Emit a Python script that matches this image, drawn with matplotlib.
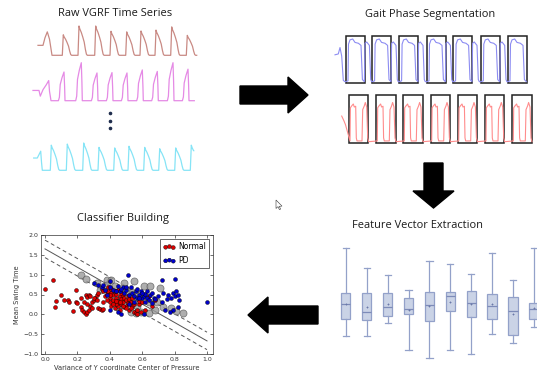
import matplotlib
matplotlib.use("Agg")
import matplotlib.pyplot as plt
from matplotlib.patches import Polygon, Rectangle
import numpy as np

W, H = 537, 370

# ---- raw VGRF series: time in samples, force as fraction of the strip max
red_peak_t = [33.3, 49, 65.7, 81, 96.7, 111, 126, 141.7, 157.3]
red_peak_f = [0.70, 1.0, 1.0, 0.82, 0.80, 0.83, 0.86, 0.97, 0.68]
red_lead_t = [8, 13, 15, 17.3, 19.5, 22]
red_lead_f = [0.34, 0.34, 0.6, 0.80, 0.55, 0.0]

mag_peak_t = [34, 51.3, 67, 82, 97, 112.3, 127.3, 143, 158]
mag_peak_f = [0.755, 1.0, 0.73, 0.74, 0.73, 0.81, 0.77, 1.0, 0.83]
mag_lead_t = [3, 9, 10.3, 13, 16.3, 18.7, 19.5, 21]
mag_lead_f = [0.27, 0.27, 0.12, 0.29, 0.42, 0.53, 0.25, 0.0]

cyan_peak_t = [21.3, 37.3, 53.7, 69, 84.7, 99, 114.7, 129.7, 145.7, 161.3]
cyan_peak_f = [0.92, 0.96, 1.0, 0.84, 0.82, 0.88, 0.84, 0.79, 0.82, 0.92]
cyan_lead_t = [3.7, 7.3, 10.7, 11.5, 12.3]
cyan_lead_f = [0.45, 0.45, 0.70, 0.3, 0.0]

# stride shapes (offset from the peak, fraction of the peak)
heel_dt = [-1.0, 0, 0.8, 2.3, 3.8, 5.2, 6.4, 7.4, 8.3]
heel_fr = [0, 1.0, 0.9, 0.78, 0.62, 0.45, 0.2, 0.04, 0]
ramp_dt = [-5.6, -4.6, -3.8, -2, 0, 0.6, 1.0]
ramp_fr = [0, 0.12, 0.56, 0.8, 1.0, 0.5, 0]

# ---- gait phase segmentation (box starts in samples, shape from box start)
blue_box_t = [15.7, 42.3, 69.3, 96.7, 123.3, 151, 177.7]
blue_lead_t = [5, 8.3, 10, 11.7, 13.3, 15]
blue_lead_f = [0.63, 0.65, 0.8, 0.6, 0.03, 0]
blue_dt = [0, 2.3, 2.8, 4.3, 7, 9.3, 12.7, 15.3, 16.7, 18.7, 19.3, 21, 23.7, 25, 26]
blue_fr = [0, 0.02, 0.88, 0.98, 1.0, 0.92, 0.9, 0.85, 0.05, 0, 0.9, 0.93, 0.85, 0.05, 0]

pink_box_t = [14, 41.3, 68.3, 95.7, 122.7, 150, 177.3]
pink_lead_t = [6.7, 9, 10.5]
pink_lead_f = [0.68, 0.55, 0.45]
pink_dt = [1.0, 1.4, 2.7, 4.3, 5.3, 6.7, 7.3, 8, 13, 13.7, 15.3, 16.3, 17.7, 18.7, 19.7]
pink_fr = [0.02, 0.9, 0.95, 1.0, 0.92, 0.94, 0.1, 0.02, 0.02, 0.85, 0.95, 1.04, 0.92, 0.1, 0]

# ---- feature boxplots (whislo, q1, med, q3, whishi, mean)
feat_lo = [0.24, 0.24, 0.37, 0.10, 0.02, 0.10, 0.06, 0.26, 0.17, 0.33]
feat_q1 = [0.41, 0.40, 0.44, 0.46, 0.39, 0.49, 0.43, 0.41, 0.25, 0.41]
feat_med = [0.56, 0.48, 0.53, 0.51, 0.55, 0.64, 0.57, 0.54, 0.49, 0.51]
feat_q3 = [0.67, 0.67, 0.67, 0.62, 0.68, 0.68, 0.69, 0.66, 0.63, 0.57]
feat_hi = [1.12, 0.92, 0.85, 0.70, 0.99, 0.96, 0.86, 1.07, 0.80, 1.12]
feat_mean = [0.56, 0.53, 0.56, 0.50, 0.54, 0.58, 0.56, 0.56, 0.46, 0.52]

# ---- classifier scatter
normal_pts = [(0.00, 0.65), (0.05, 0.87), (0.07, 0.33), (0.06, 0.18), (0.10, 0.50),
              (0.12, 0.35), (0.14, 0.37), (0.15, 0.30), (0.17, 0.08), (0.19, 0.62),
              (0.19, 0.32), (0.20, 0.28), (0.22, 0.19), (0.23, 0.10), (0.24, 0.05),
              (0.25, 0.00), (0.26, 0.05), (0.27, 0.12), (0.25, 0.48), (0.26, 0.43),
              (0.27, 0.50), (0.28, 0.45), (0.29, 0.30), (0.30, 0.35), (0.28, 0.22),
              (0.29, 0.17), (0.31, 0.40), (0.32, 0.48), (0.33, 0.15), (0.34, 0.13),
              (0.35, 0.12), (0.36, 0.14), (0.33, 0.55), (0.35, 0.65), (0.36, 0.58),
              (0.37, 0.45), (0.38, 0.52), (0.39, 0.60), (0.40, 0.42), (0.40, 0.30),
              (0.41, 0.55), (0.41, 0.22), (0.42, 0.35), (0.42, 0.48), (0.43, 0.28),
              (0.43, 0.15), (0.44, 0.40), (0.44, 0.52), (0.45, 0.20), (0.45, 0.33),
              (0.46, 0.45), (0.46, 0.10), (0.47, 0.25), (0.47, 0.38), (0.48, 0.30),
              (0.48, 0.50), (0.49, 0.18), (0.49, 0.42), (0.50, 0.35), (0.50, 0.22),
              (0.51, 0.28), (0.51, 0.45), (0.52, 0.12), (0.52, 0.38), (0.53, 0.30),
              (0.54, 0.20), (0.54, 0.42), (0.55, 0.05), (0.56, 0.03), (0.57, 0.02),
              (0.58, 0.25), (0.58, 0.33), (0.60, 0.30), (0.62, 0.10), (0.64, 0.45),
              (0.66, 0.20), (0.68, 0.35), (0.39, 0.70), (0.41, 0.65), (0.43, 0.58),
              (0.45, 0.62), (0.47, 0.55), (0.38, 0.35), (0.36, 0.30), (0.44, 0.25),
              (0.50, 0.15), (0.40, 0.48), (0.42, 0.25), (0.44, 0.33), (0.46, 0.30),
              (0.48, 0.20), (0.53, 0.15), (0.55, 0.25), (0.57, 0.12), (0.59, 0.05),
              (0.30, 0.42), (0.32, 0.36), (0.24, 0.30), (0.22, 0.40), (0.26, 0.25)]
pd_pts = [(0.30, 0.78), (0.33, 0.75), (0.35, 0.70), (0.37, 0.62), (0.40, 0.70),
          (0.40, 0.85), (0.42, 0.62), (0.44, 0.58), (0.45, 0.72), (0.46, 0.60),
          (0.48, 0.70), (0.49, 0.55), (0.50, 0.62), (0.51, 1.00), (0.52, 0.50),
          (0.53, 0.68), (0.54, 0.55), (0.55, 0.45), (0.56, 0.60), (0.57, 0.40),
          (0.58, 0.50), (0.59, 0.58), (0.60, 0.40), (0.61, 0.47), (0.62, 0.52),
          (0.62, 0.30), (0.63, 0.42), (0.64, 0.35), (0.65, 0.50), (0.66, 0.28),
          (0.67, 0.42), (0.68, 0.38), (0.70, 0.45), (0.72, 0.87), (0.72, 0.30),
          (0.73, 0.55), (0.74, 0.12), (0.75, 0.38), (0.76, 0.48), (0.78, 0.40),
          (0.79, 0.55), (0.80, 0.88), (0.80, 0.45), (0.81, 0.60), (0.82, 0.50),
          (0.82, 0.18), (0.83, 0.35), (0.79, 0.10), (0.77, 0.05), (0.45, 0.05),
          (0.40, 0.10), (0.38, 0.50), (0.47, 0.02), (0.55, 0.30), (0.52, 0.25),
          (1.00, 0.30), (0.61, 0.00), (0.57, 0.65), (0.60, 0.55), (0.63, 0.60),
          (0.66, 0.55), (0.58, 0.42), (0.50, 0.68), (0.47, 0.65), (0.36, 0.75)]
support_pts = [(0.22, 0.99), (0.25, 0.89), (0.32, 0.80), (0.38, 0.87), (0.41, 0.87),
               (0.43, 0.71), (0.49, 0.80), (0.55, 0.84), (0.61, 0.71), (0.65, 0.72),
               (0.71, 0.67), (0.38, 0.74), (0.34, 0.61), (0.45, 0.18), (0.59, 0.07),
               (0.64, 0.03), (0.68, 0.11), (0.73, 0.18), (0.78, 0.15), (0.81, 0.09),
               (0.85, 0.04), (0.64, 0.32), (0.69, 0.32), (0.54, 0.57), (0.61, 0.45),
               (0.47, 0.40), (0.52, 0.30), (0.56, 0.50), (0.50, 0.60), (0.40, 0.55),
               (0.57, 0.20), (0.53, 0.05), (0.56, 0.03)]
sep_intercept, sep_slope, sep_margin = 1.65, -2.32, 0.22


def build(lead_t, lead_f, starts, scale, dt, fr, end_t):
    t, f = list(lead_t), list(lead_f)
    for s, a in zip(starts, scale):
        for d, r in zip(dt, fr):
            t.append(s + d)
            f.append(a * r)
    t, f = np.array(t), np.array(f)
    keep = t <= end_t
    t, f = t[keep], f[keep]
    return np.append(t, end_t), np.append(f, f[-1])


def strip(x0, x1, base, top, pad_lo=4, pad_hi=12):
    unit = base - top
    lo, hi = base + pad_lo, top - pad_hi
    ax = fig.add_axes([x0 / W, 1 - lo / H, (x1 - x0) / W, (lo - hi) / H])
    ax.set_xlim(0, x1 - x0)
    ax.set_ylim((base - lo) / unit, (base - hi) / unit)
    ax.axis('off')
    return ax


fig = plt.figure(figsize=(W / 100, H / 100), dpi=100)
fig.patch.set_facecolor('white')
title_font = dict(family=['Open Sans', 'DejaVu Sans'], fontsize=7.9, color='#1a1a1a',
                  ha='center', va='center')

# raw series
ax = strip(30, 200, 55.3, 26)
t, f = build(red_lead_t, red_lead_f, red_peak_t, red_peak_f, heel_dt, heel_fr, 166.7)
ax.plot(t, f, color='#c98a84', lw=0.9)
ax = strip(30, 200, 100.7, 62.7)
t, f = build(mag_lead_t, mag_lead_f, mag_peak_t, mag_peak_f, ramp_dt, ramp_fr, 164.3)
ax.plot(t, f, color='#e58ae5', lw=0.9)
ax = strip(30, 200, 170.3, 143)
t, f = build(cyan_lead_t, cyan_lead_f, cyan_peak_t, cyan_peak_f, heel_dt, heel_fr, 163.7)
ax.plot(t, f, color='#86e4f6', lw=0.9)

# segmented strips
ax = strip(330, 537, 81.7, 39, 4, 6)
t, f = build(blue_lead_t, blue_lead_f, blue_box_t, [1] * 7, blue_dt, blue_fr, 196.4)
ax.plot(t, f, color='#8c8cf2', lw=0.8)
for s in blue_box_t:
    ax.add_patch(Rectangle((s, -0.037), 19, 1.114, fill=False, ec='#222222', lw=1.1))
ax = strip(335, 537, 141.7, 104, 4, 12)
t, f = build(pink_lead_t, pink_lead_f, pink_box_t, [1] * 7, pink_dt, pink_fr, 197)
ax.plot(t, f, color='#ff8c8c', lw=0.8)
for s in pink_box_t:
    ax.add_patch(Rectangle((s, -0.042), 19.3, 1.282, fill=False, ec='#222222', lw=1.1))

# boxplots
bx = fig.add_axes([325 / W, 1 - 360 / H, 212 / W, 120 / H])
stats = [dict(whislo=a, q1=b, med=c, q3=d, whishi=e, mean=m, fliers=[])
         for a, b, c, d, e, m in zip(feat_lo, feat_q1, feat_med, feat_q3, feat_hi, feat_mean)]
edge = '#93a1c9'
bx.bxp(stats, positions=range(1, 11), widths=0.44, patch_artist=True, showmeans=True,
       boxprops=dict(facecolor='#cad3e6', edgecolor=edge, lw=0.9),
       whiskerprops=dict(color=edge, lw=0.9), capprops=dict(color=edge, lw=0.9),
       medianprops=dict(color='#7d8bb8', lw=0.9), capwidths=0.3,
       meanprops=dict(marker='+', markersize=2, markeredgecolor='#6a78a8', markeredgewidth=0.6))
bx.set_xlim(0, 10.15)
bx.set_ylim(0, 1.2)
bx.axis('off')

# classifier scatter
sc = fig.add_axes([41 / W, 1 - 354 / H, 172 / W, 119 / H])
sc.set_xlim(-0.0247, 1.037)
sc.set_ylim(-1, 2)
xs = np.array([0, 1.0])
sc.plot(xs, sep_intercept + sep_slope * xs, color='#555555', lw=0.7)
for m in (sep_margin, -sep_margin):
    sc.plot(xs, sep_intercept + m + sep_slope * xs, color='#555555', lw=0.7, ls=(0, (4, 3)))
sx, sy = zip(*support_pts)
sc.scatter(sx, sy, s=26, facecolor='#9a9a9a', edgecolor='#555555', lw=0.5, alpha=0.8, zorder=2)
nx, ny = zip(*normal_pts)
px_, py_ = zip(*pd_pts)
sc.scatter(nx, ny, s=8, c='#dd0000', edgecolor='black', lw=0.3, zorder=3, label='Normal')
sc.scatter(px_, py_, s=8, c='#0000cc', edgecolor='black', lw=0.3, zorder=3, label='PD')
sc.set_xticks([0.0, 0.2, 0.4, 0.6, 0.8, 1.0])
sc.set_yticks([-1.0, -0.5, 0.0, 0.5, 1.0, 1.5, 2.0])
sc.tick_params(direction='in', length=2, width=0.4, labelsize=4.5, labelcolor='#333333',
               top=True, right=True, pad=2)
for sp in sc.spines.values():
    sp.set_linewidth(0.5)
    sp.set_color('#333333')
sc.set_xlabel('Variance of Y coordinate Center of Pressure', fontsize=4.8, color='#333333', labelpad=2)
sc.set_ylabel('Mean Swing Time', fontsize=4.8, color='#333333', labelpad=2)
leg = sc.legend(loc='upper right', fontsize=5.5, scatterpoints=3, fancybox=False,
                borderpad=0.45, handletextpad=0.3, labelspacing=0.6, borderaxespad=0.5,
                handlelength=1.6)
leg.get_frame().set_edgecolor('#222222')
leg.get_frame().set_linewidth(0.6)

# overlay: titles, arrows, dots, cursor
ov = fig.add_axes([0, 0, 1, 1])
ov.set_xlim(0, W)
ov.set_ylim(H, 0)
ov.axis('off')
ov.text(115, 13, 'Raw VGRF Time Series', **title_font)
ov.text(430, 14, 'Gait Phase Segmentation', **title_font)
ov.text(123, 219, 'Classifier Building', **title_font)
ov.text(417, 225, 'Feature Vector Extraction', **title_font)
ov.plot([110, 110, 110], [113.3, 120.7, 128.3], 'o', ms=1.6, color='#1f2d4d')
ov.add_patch(Polygon([(240, 86), (288, 86), (288, 77), (308, 95), (288, 113), (288, 104),
                      (240, 104)], closed=True, color='black'))
ov.add_patch(Polygon([(424, 163), (443, 163), (443, 191), (454, 191), (433.5, 208),
                      (413, 191), (424, 191)], closed=True, color='black'))
ov.add_patch(Polygon([(318, 306), (268, 306), (268, 297), (248, 315), (268, 333), (268, 324),
                      (318, 324)], closed=True, color='black'))
ov.add_patch(Polygon([(276, 200), (276, 208.5), (278, 206.6), (279.4, 209.6), (280.6, 209.1),
                      (279.3, 206.3), (282, 206.1)], closed=True, fc='white', ec='#333333', lw=0.4))

fig.savefig('out.png', dpi=100)
